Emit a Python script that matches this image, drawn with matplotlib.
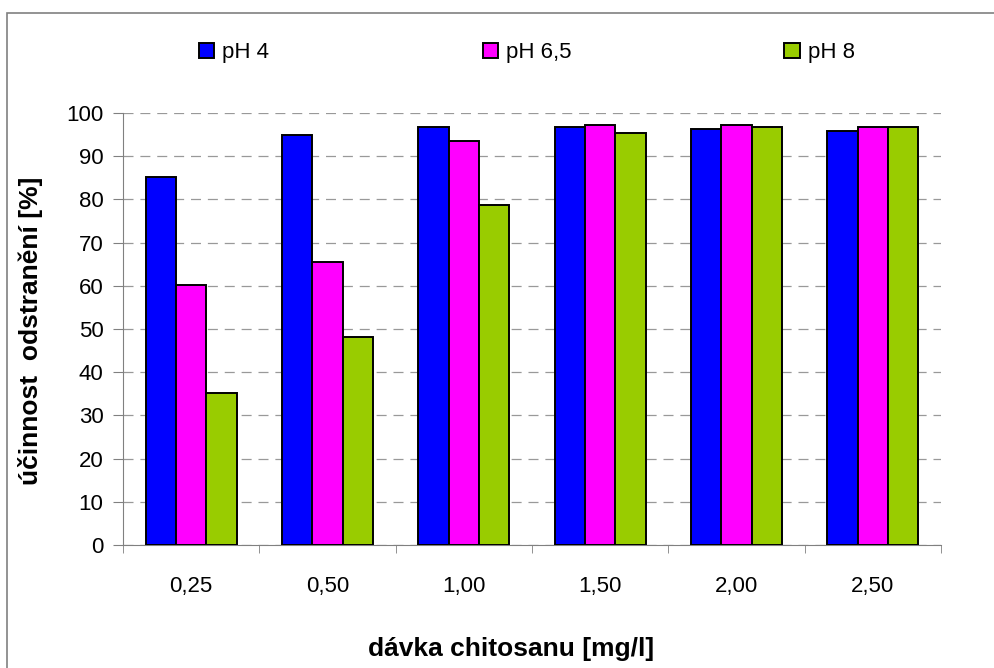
import numpy as np
import matplotlib
matplotlib.use("Agg")
import matplotlib.pyplot as plt
from matplotlib.patches import Rectangle
from matplotlib.ticker import MultipleLocator, FixedLocator

plt.rcParams['font.family'] = ['Liberation Sans', 'DejaVu Sans']

# data
davka = ['0,25', '0,50', '1,00', '1,50', '2,00', '2,50']
ph4 = [85.2, 95.0, 96.7, 96.7, 96.3, 95.9]
ph65 = [60.2, 65.6, 93.4, 97.2, 97.2, 96.7]
ph8 = [35.1, 48.1, 78.7, 95.4, 96.7, 96.7]
series = ['pH 4', 'pH 6,5', 'pH 8']
colors = ['#0000ff', '#ff00ff', '#99cc00']

fig = plt.figure(figsize=(9.94, 6.68), dpi=100)
ax = fig.add_axes([0.1237, 0.184, 0.8230, 0.647])

x = np.arange(len(davka))
w = 0.222
bars = []
for i, (vals, lab, c) in enumerate(zip([ph4, ph65, ph8], series, colors)):
    b = ax.bar(x + (i - 1) * w, vals, w, color=c, edgecolor='black', linewidth=1.4,
               label=lab, zorder=3)
    bars.append(b)

ax.set_xlim(-0.5, len(davka) - 0.5)
ax.set_ylim(0, 100)
ax.yaxis.set_major_locator(MultipleLocator(10))
ax.set_xticks(x)
ax.set_xticklabels(davka)
ax.xaxis.set_minor_locator(FixedLocator(np.arange(len(davka) + 1) - 0.5))
ax.tick_params(axis='x', which='major', length=0, pad=22, labelsize=16)
ax.tick_params(axis='x', which='minor', length=6, color='#808080', direction='out')
ax.tick_params(axis='y', length=7, color='#808080', labelsize=16, pad=7)

ax.grid(axis='y', color='#999999', linestyle=(0, (8, 5.5)), linewidth=0.9, zorder=0)
for s in ['top', 'right']:
    ax.spines[s].set_visible(False)
for s in ['left', 'bottom']:
    ax.spines[s].set_color('#808080')

ax.set_ylabel('účinnost  odstranění [%]', fontsize=19, fontweight='bold')
ax.set_xlabel('dávka chitosanu [mg/l]', fontsize=19, fontweight='bold')
ax.yaxis.set_label_coords(-0.098, 0.495)
ax.xaxis.set_label_coords(0.474, -0.213)

fig.legend(handles=bars, labels=series, loc='center', bbox_to_anchor=(0.530, 0.921),
           ncol=3, frameon=False, fontsize=16, handlelength=0.68, handleheight=0.63,
           handletextpad=0.36, columnspacing=9.6)

# outer chart frame (cut off at right and bottom)
fig.add_artist(Rectangle((0.0075, -0.1), 1.2, 1.1 - 0.0195, transform=fig.transFigure,
                         fill=False, edgecolor='#808080', linewidth=1.2))

fig.savefig('out.png', dpi=100)
